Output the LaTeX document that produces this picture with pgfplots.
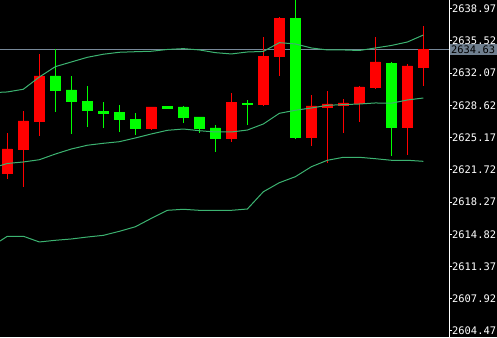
\documentclass[border=0pt]{standalone}
\usepackage{pgfplots}
\pgfplotsset{compat=1.18}
\usepackage{pgfplotstable}
\usepackage{fontspec}
\setmonofont{DejaVu Sans Mono}
\definecolor{candleup}{RGB}{255,0,0}
\definecolor{candledn}{RGB}{0,255,0}
\definecolor{bandcol}{RGB}{60,179,113}
\definecolor{pricecol}{RGB}{119,136,153}
\definecolor{boxcol}{RGB}{112,128,144}

\pgfplotstableread{
x o h l c
1 2621.30 2625.66 2620.77 2623.95
2 2623.87 2628.02 2619.91 2626.95
3 2626.87 2634.13 2625.37 2631.77
4 2631.77 2634.63 2627.95 2630.20
5 2630.27 2631.77 2625.59 2629.02
6 2629.09 2630.70 2626.34 2628.05
7 2627.99 2628.98 2626.23 2627.83
8 2627.91 2628.66 2625.80 2627.09
9 2627.16 2627.81 2625.48 2626.12
10 2626.12 2628.45 2626.02 2628.45
11 2628.50 2628.50 2628.34 2628.34
12 2628.45 2628.56 2626.77 2627.30
13 2627.38 2627.38 2625.70 2626.12
14 2626.20 2626.52 2623.66 2625.05
15 2625.05 2629.95 2624.73 2628.98
16 2628.85 2629.20 2626.55 2628.69
17 2628.70 2635.95 2628.59 2633.91
18 2633.84 2638.09 2631.80 2637.98
19 2637.98 2641.00 2625.05 2625.16
20 2625.16 2629.73 2624.30 2628.56
21 2628.45 2630.20 2622.48 2628.77
22 2628.66 2629.31 2625.70 2628.88
23 2628.80 2630.70 2626.87 2630.59
24 2630.59 2635.98 2630.41 2633.27
25 2633.16 2633.27 2623.23 2626.23
26 2626.23 2633.06 2623.34 2632.84
27 2632.73 2637.16 2630.73 2634.66
}\candles

\pgfplotstableread{
x up mid low
0.541 2630.02 2622.16 2614.09
1 2630.06 2622.40 2614.60
2 2630.35 2622.56 2614.60
3 2631.66 2622.80 2613.99
4 2632.77 2623.41 2614.17
5 2633.27 2623.95 2614.31
6 2633.77 2624.35 2614.52
7 2634.10 2624.56 2614.70
8 2634.31 2624.73 2615.13
9 2634.37 2625.13 2615.62
10 2634.42 2625.56 2616.52
11 2634.61 2625.95 2617.38
12 2634.70 2626.09 2617.49
13 2634.56 2625.91 2617.38
14 2634.27 2625.77 2617.38
15 2634.13 2625.77 2617.38
16 2634.34 2625.98 2617.52
17 2634.40 2626.63 2619.37
18 2635.34 2627.77 2620.34
19 2635.20 2628.10 2620.98
20 2634.77 2628.34 2622.05
21 2634.56 2628.63 2622.74
22 2634.56 2628.70 2623.06
23 2634.50 2628.77 2623.06
24 2634.77 2628.88 2622.91
25 2635.04 2628.85 2622.74
26 2635.41 2629.20 2622.74
27 2636.16 2629.41 2622.63
}\bands

\begin{document}
\begin{tikzpicture}
\path[use as bounding box] (0,0) rectangle (497pt,337pt);
\fill[black] (0,0) rectangle (497pt,337pt);
\begin{axis}[
  at={(0,0)}, anchor=south west,
  scale only axis, width=449pt, height=337pt,
  xmin=0.541, xmax=28.603, ymin=2603.81, ymax=2639.91,
  axis x line=none, axis y line=right,
  axis line style={draw=white, line width=1pt, -},
  xtick=\empty,
  ytick={2604.47,2607.92,2611.37,2614.82,2618.27,2621.72,2625.17,2628.62,2632.07,2635.52,2638.97},
  tick align=outside, major tick length=3pt,
  tick style={draw=white, line width=1pt},
  /pgf/number format/fixed,
  /pgf/number format/fixed zerofill,
  /pgf/number format/precision=2,
  /pgf/number format/1000 sep={},
  /pgf/number format/assume math mode=true,
  yticklabel style={anchor=west, inner sep=0pt, text=white, font=\ttfamily\fontsize{10.4pt}{12pt}\selectfont},
  clip=true,
]
\addplot[pricecol, line width=1pt, forget plot] coordinates {(0.541,2634.63) (28.603,2634.63)};
\pgfplotstablegetrowsof{\candles}
\pgfmathtruncatemacro{\nrows}{\pgfplotsretval-1}
\pgfplotsforeachungrouped \r in {0,...,\nrows}{%
  \pgfplotstablegetelem{\r}{x}\of\candles \let\cx\pgfplotsretval
  \pgfplotstablegetelem{\r}{o}\of\candles \let\co\pgfplotsretval
  \pgfplotstablegetelem{\r}{h}\of\candles \let\ch\pgfplotsretval
  \pgfplotstablegetelem{\r}{l}\of\candles \let\cl\pgfplotsretval
  \pgfplotstablegetelem{\r}{c}\of\candles \let\cc\pgfplotsretval
  \pgfmathsetmacro{\xa}{\cx-0.32}%
  \pgfmathsetmacro{\xb}{\cx+0.32}%
  \pgfmathtruncatemacro{\isup}{\cc>\co}%
  \ifnum\isup=1 \def\ccol{candleup}\else\def\ccol{candledn}\fi
  \edef\tmp{\noexpand\addplot[draw=\ccol, line width=1pt, forget plot] coordinates {(\cx,\cl) (\cx,\ch)};
    \noexpand\addplot[fill=\ccol, draw=\ccol, line width=0.5pt, forget plot] coordinates {(\xa,\co) (\xb,\co) (\xb,\cc) (\xa,\cc) (\xa,\co)};}%
  \tmp
}
\addplot[bandcol, line width=1pt] table[x=x, y=up] {\bands};
\addplot[bandcol, line width=1pt] table[x=x, y=mid] {\bands};
\addplot[bandcol, line width=1pt] table[x=x, y=low] {\bands};
\coordinate (cp) at (axis cs:28.603,2634.63);
\end{axis}
\node[fill=boxcol, anchor=west, inner xsep=1.5pt, inner ysep=0pt, minimum height=11pt, text=black, font=\ttfamily\fontsize{10.4pt}{12pt}\selectfont] at ([xshift=0.5pt]cp) {2634.63};
\end{tikzpicture}
\end{document}
